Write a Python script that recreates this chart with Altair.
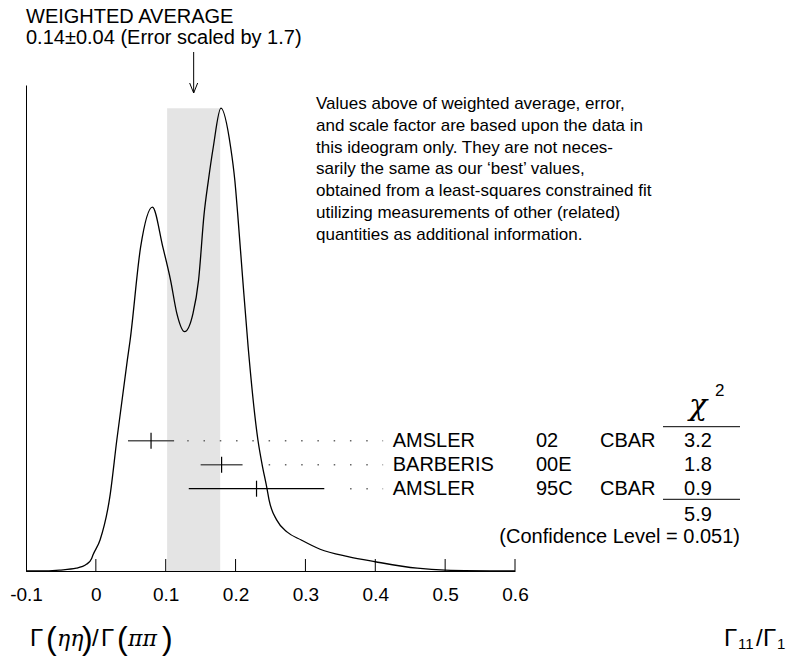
import altair as alt
import pandas as pd
import math

# ---------------- data ----------------
curve_x = [-0.100, -0.080, -0.052, -0.028, -0.013, -0.006, -0.004, 0.006, 0.020, 0.030,
           0.045, 0.049, 0.064, 0.081, 0.096, 0.107, 0.116, 0.127, 0.139, 0.147,
           0.155, 0.161, 0.168, 0.179, 0.193, 0.199, 0.203, 0.210, 0.218, 0.232,
           0.238, 0.245, 0.248, 0.259, 0.274, 0.294, 0.321, 0.361, 0.400, 0.460,
           0.500, 0.600]
curve_h = [0.000, 0.000, 0.002, 0.006, 0.015, 0.027, 0.035, 0.067, 0.160, 0.283,
           0.455, 0.498, 0.699, 0.786, 0.699, 0.628, 0.556, 0.517, 0.556, 0.628,
           0.772, 0.843, 0.915, 1.000, 0.915, 0.843, 0.772, 0.635, 0.484, 0.283,
           0.230, 0.178, 0.153, 0.110, 0.084, 0.067, 0.047, 0.031, 0.020, 0.006,
           0.002, 0.000]

names = ["AMSLER", "BARBERIS", "AMSLER"]
years = ["02", "00E", "95C"]
techs = ["CBAR", "", "CBAR"]
values = [0.079, 0.180, 0.230]
errors = [0.033, 0.030, 0.097]
chi2 = ["3.2", "1.8", "0.9"]
bar_colors = ["#555555", "#555555", "#000000"]
chi2_total = "5.9"
conf_level = "0.051"

avg = 0.14
avg_err_label = "0.04"
band_err = 0.038
scale_factor = "1.7"

x_ticks = [0.0, 0.1, 0.2, 0.3, 0.4, 0.5, 0.6]
x_labels = [-0.1, 0.0, 0.1, 0.2, 0.3, 0.4, 0.5, 0.6]
x_domain = [-0.1, 0.6]

paragraph = [
    "Values above of weighted average, error,",
    "and scale factor are based upon the data in",
    "this ideogram only.  They are not neces-",
    "sarily the same as our \u2018best\u2019 values,",
    "obtained from a least-squares constrained fit",
    "utilizing measurements of other (related)",
    "quantities as additional information.",
]

# ---------------- layout ----------------
W, H = 489, 486
LEFT, TOP = 18, 77
TOTAL_W, TOTAL_H = 779, 648
PAGE = 8
FONT = "Liberation Sans"


def px(xp):
    return xp - PAGE - LEFT


def py(yp):
    return yp - PAGE - TOP


xs = alt.Scale(domain=x_domain, nice=False, zero=False)
ys = alt.Scale(domain=[0, 1.05], nice=False, zero=False)

label_expr = ("datum.value < 0 ? '-' + format(-datum.value, '.1f') : "
              "(datum.value == 0 ? '0' : format(datum.value, '.1f'))")
xaxis = alt.Axis(values=x_labels, labelExpr=label_expr, ticks=False, grid=False,
                 domain=True, domainColor="black", domainWidth=1, title=None,
                 labelFont=FONT, labelFontSize=19, labelColor="black",
                 labelPadding=14, labelFlush=False, labelOverlap=False, labelBound=False)
yaxis = alt.Axis(labels=False, ticks=False, grid=False, domain=True,
                 domainColor="black", domainWidth=1, title=None)


def X(field):
    return alt.X(field, scale=xs, axis=xaxis)


def Y(field):
    return alt.Y(field, scale=ys, axis=yaxis)


layers = []

# band of weighted average
band_df = pd.DataFrame({"lo": [avg - band_err], "hi": [avg + band_err],
                        "y0": [0.0], "y1": [max(curve_h)]})
layers.append(alt.Chart(band_df).mark_rect(color="#e4e4e4").encode(
    x=X("lo:Q"), x2="hi", y=Y("y0:Q"), y2="y1"))

# ideogram curve
curve_df = pd.DataFrame({"x": curve_x, "h": curve_h})
layers.append(alt.Chart(curve_df).mark_line(color="black", strokeWidth=1.3,
                                            interpolate="monotone").encode(
    x=X("x:Q"), y=Y("h:Q")))

# inward ticks
tick_df = pd.DataFrame({"t": x_ticks})
layers.append(alt.Chart(tick_df).mark_rule(color="black", strokeWidth=1).encode(
    x=X("t:Q"), y=alt.value(H), y2=alt.value(H - 12)))

# arrow to weighted average
avg_df = pd.DataFrame({"avg": [avg]})
layers.append(alt.Chart(avg_df).mark_rule(color="black", strokeWidth=1).encode(
    x=X("avg:Q"), y=alt.value(py(52)), y2=alt.value(py(93))))
layers.append(alt.Chart(avg_df).mark_point(shape="M -0.4 -1 L 0 0 L 0.4 -1", filled=False,
                                           size=400, color="black", strokeWidth=1,
                                           opacity=1).encode(
    x=X("avg:Q"), y=alt.value(py(93))))

# measurements
row_y = [440.7, 464.7, 488.7]
dot_origin, dot_step, dot_end = 0.1308, 0.02331, 0.4112
for i in range(len(values)):
    lo, hi = values[i] - errors[i], values[i] + errors[i]
    k = math.ceil((hi + 0.0172 - dot_origin) / dot_step)
    dstart = dot_origin + k * dot_step
    mdf = pd.DataFrame({"lo": [lo], "hi": [hi], "v": [values[i]],
                        "ds": [dstart], "de": [dot_end]})
    yv = py(row_y[i])
    layers.append(alt.Chart(mdf).mark_rule(color="#666666", strokeWidth=1.5,
                                           strokeDash=[1.5, 14.77]).encode(
        x=X("ds:Q"), x2="de", y=alt.value(yv)))
    layers.append(alt.Chart(mdf).mark_rule(color=bar_colors[i],
                                           strokeWidth=1.6 if i < 2 else 1.2).encode(
        x=X("lo:Q"), x2="hi", y=alt.value(yv)))
    layers.append(alt.Chart(mdf).mark_rule(color="black", strokeWidth=1.2).encode(
        x=X("v:Q"), y=alt.value(yv - 8), y2=alt.value(yv + 8)))


def txt(s, xp, yp, size=20, align="left", font=FONT, style="normal", weight="normal"):
    return alt.Chart(pd.DataFrame({"a": [0]})).mark_text(
        text=s, align=align, baseline="alphabetic", font=font, fontSize=size,
        fontStyle=style, fontWeight=weight, color="black").encode(
        x=alt.value(px(xp)), y=alt.value(py(yp)))


# headline
layers.append(txt("WEIGHTED AVERAGE", 26, 23))
layers.append(txt(f"{avg:.2f}\u00b1{avg_err_label} (Error scaled by {scale_factor})", 26, 43.5))

# explanation paragraph
for j, line in enumerate(paragraph):
    layers.append(txt(line, 316, 109 + 21.8 * j, size=17))

# table
for i in range(len(values)):
    b = row_y[i] + 6
    layers.append(txt(names[i], 392.7, b))
    layers.append(txt(years[i], 536, b))
    if techs[i]:
        layers.append(txt(techs[i], 600, b))
    layers.append(txt(chi2[i], 698, b, align="center"))

layers.append(txt("\u03c7", 698, 415, size=30, align="center", font="DejaVu Serif", style="italic"))
layers.append(txt("2", 715, 396, size=17))
for yl in [426.7, 499.3]:
    layers.append(alt.Chart(pd.DataFrame({"a": [0]})).mark_rule(color="black", strokeWidth=1).encode(
        x=alt.value(px(663)), x2=alt.value(px(740)), y=alt.value(py(yl))))
layers.append(txt(chi2_total, 698, 520.7, align="center"))
layers.append(txt(f"(Confidence Level = {conf_level})", 740, 543.3, align="right"))

# bottom-left quantity label
BY = 646
layers.append(txt("\u0393", 30, BY, size=24))
layers.append(txt("(", 46, BY + 3, size=32, weight="lighter"))
layers.append(txt("\u03b7\u03b7", 57, BY, size=22, font="DejaVu Serif", style="italic"))
layers.append(txt(")", 82, BY + 3, size=32, weight="lighter"))
layers.append(txt("/", 92, BY, size=24))
layers.append(txt("\u0393", 101, BY, size=24))
layers.append(txt("(", 117, BY + 3, size=32, weight="lighter"))
layers.append(txt("\u03c0\u03c0", 128, BY, size=22, font="DejaVu Serif", style="italic"))
layers.append(txt(")", 162, BY + 3, size=32, weight="lighter"))

# bottom-right label
layers.append(txt("\u0393", 724, BY, size=24))
layers.append(txt("11", 738, BY + 3, size=15))
layers.append(txt("/", 756, BY, size=24))
layers.append(txt("\u0393", 763, BY, size=24))
layers.append(txt("1", 777, BY + 3, size=15))

chart = alt.layer(*layers).properties(
    width=W, height=H,
    autosize=alt.AutoSizeParams(type="none"),
    padding={"left": LEFT, "top": TOP, "right": TOTAL_W - LEFT - W, "bottom": TOTAL_H - TOP - H},
    background="white",
).configure_view(stroke=None)

chart.save("out.html", embed_options={"renderer": "svg", "actions": False})
